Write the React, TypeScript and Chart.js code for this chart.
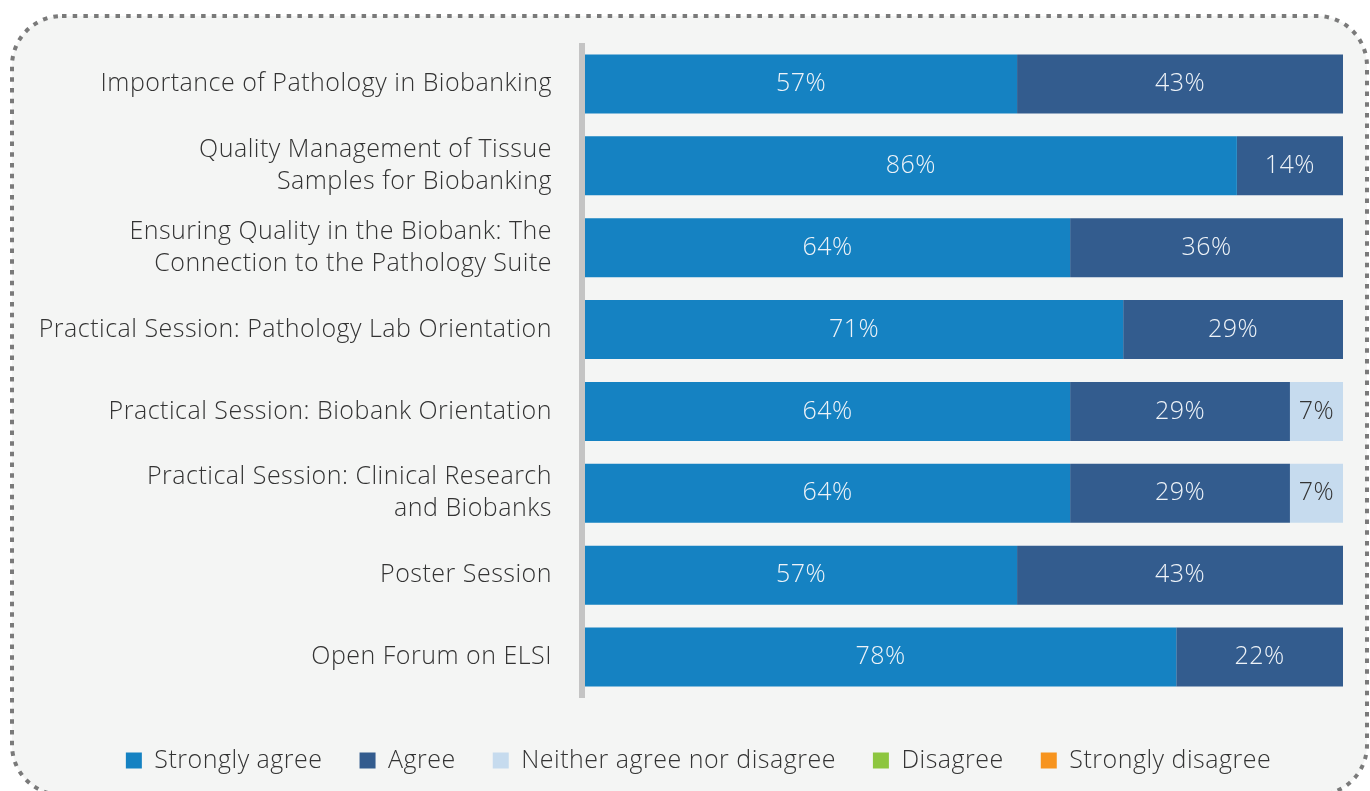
import React, { useEffect, useRef } from "react";
import { Chart, registerables } from "chart.js";

Chart.register(...registerables);

const categories: string[][] = [
  ["Importance of Pathology in Biobanking"],
  ["Quality Management of Tissue", "Samples for Biobanking"],
  ["Ensuring Quality in the Biobank: The", "Connection to the Pathology Suite"],
  ["Practical Session: Pathology Lab Orientation"],
  ["Practical Session: Biobank Orientation"],
  ["Practical Session: Clinical Research", "and Biobanks"],
  ["Poster Session"],
  ["Open Forum on ELSI"],
];

const seriesNames = [
  "Strongly agree",
  "Agree",
  "Neither agree nor disagree",
  "Disagree",
  "Strongly disagree",
];

const stronglyAgree = [57, 86, 64, 71, 64, 64, 57, 78];
const agree = [43, 14, 36, 29, 29, 29, 43, 22];
const neither = [0, 0, 0, 0, 7, 7, 0, 0];
const disagree = [0, 0, 0, 0, 0, 0, 0, 0];
const stronglyDisagree = [0, 0, 0, 0, 0, 0, 0, 0];

const seriesColors = ["#1582c2", "#335c8e", "#c6dbee", "#8dc63f", "#f7941e"];
const labelColors = ["#eef3f8", "#eef3f8", "#333333", "#333333", "#333333"];

const FONT = "'Open Sans', Roboto, 'Liberation Sans', Arial, sans-serif";
const FONT_SIZE = 25;
const LETTER_SPACING = "0.5px";

const setSpacing = (chart: any) => {
  const ctx = chart.ctx;
  if (ctx && "letterSpacing" in ctx) ctx.letterSpacing = LETTER_SPACING;
};

const backgroundPlugin = {
  id: "bgBox",
  beforeUpdate(chart: any) {
    setSpacing(chart);
  },
  beforeDraw(chart: any) {
    setSpacing(chart);
    const ctx = chart.ctx;
    const w = chart.width;
    const h = chart.height;
    ctx.save();
    ctx.fillStyle = "#ffffff";
    ctx.fillRect(0, 0, w, h);
    const x = 12, y = 16, bw = 1355, bh = 779, r = 50;
    ctx.beginPath();
    ctx.moveTo(x + r, y);
    ctx.lineTo(x + bw - r, y);
    ctx.arcTo(x + bw, y, x + bw, y + r, r);
    ctx.lineTo(x + bw, y + bh - r);
    ctx.arcTo(x + bw, y + bh, x + bw - r, y + bh, r);
    ctx.lineTo(x + r, y + bh);
    ctx.arcTo(x, y + bh, x, y + bh - r, r);
    ctx.lineTo(x, y + r);
    ctx.arcTo(x, y, x + r, y, r);
    ctx.closePath();
    ctx.fillStyle = "#f4f5f4";
    ctx.fill();
    ctx.setLineDash([4.5, 6.2]);
    ctx.lineWidth = 4;
    ctx.strokeStyle = "#7a7a7a";
    ctx.stroke();
    ctx.restore();
  },
  beforeDatasetsDraw(chart: any) {
    const a = chart.chartArea;
    const ctx = chart.ctx;
    ctx.save();
    ctx.fillStyle = "#c4c4c4";
    ctx.fillRect(a.left - 6, a.top, 6, a.bottom - a.top);
    ctx.restore();
  },
};

const valueLabelPlugin = {
  id: "valueLabels",
  afterDatasetsDraw(chart: any) {
    const ctx = chart.ctx;
    ctx.save();
    ctx.font = `300 ${FONT_SIZE}px ${FONT}`;
    ctx.textAlign = "center";
    ctx.textBaseline = "middle";
    chart.data.datasets.forEach((ds: any, di: number) => {
      const meta = chart.getDatasetMeta(di);
      if (meta.hidden) return;
      meta.data.forEach((bar: any, i: number) => {
        const v = ds.data[i];
        if (!v) return;
        const p = bar.getProps(["x", "y", "base"], true);
        ctx.fillStyle = labelColors[di];
        ctx.fillText(`${v}%`, (p.x + p.base) / 2, p.y);
      });
    });
    ctx.restore();
  },
};

export default function App() {
  const ref = useRef<HTMLCanvasElement | null>(null);

  useEffect(() => {
    if (!ref.current) return;
    const seriesData = [stronglyAgree, agree, neither, disagree, stronglyDisagree];
    const chart = new Chart(ref.current, {
      type: "bar",
      data: {
        labels: categories,
        datasets: seriesNames.map((name, i) => ({
          label: name,
          data: seriesData[i],
          backgroundColor: seriesColors[i],
          borderWidth: 0,
          barPercentage: 0.72,
          categoryPercentage: 1,
        })),
      },
      options: {
        indexAxis: "y",
        responsive: true,
        maintainAspectRatio: false,
        animation: false,
        layout: { padding: { top: 43, left: 27, right: 0, bottom: 8 } },
        scales: {
          x: {
            stacked: true,
            min: 0,
            max: 100,
            display: true,
            grid: { display: false },
            border: { display: false },
            ticks: { display: false },
            afterFit: (scale: any) => {
              scale.height = 13;
              scale.paddingLeft = 0;
              scale.paddingRight = 0;
            },
          },
          y: {
            stacked: true,
            grid: { display: false, drawTicks: false },
            border: { display: false },
            ticks: {
              color: "#333333",
              padding: 33,
              font: { family: FONT, size: FONT_SIZE, weight: "300", lineHeight: 1.28 },
            },
            afterFit: (scale: any) => {
              scale.width = 558;
              scale.paddingTop = 0;
              scale.paddingBottom = 0;
            },
          },
          yRight: {
            type: "category",
            position: "right",
            display: true,
            grid: { display: false, drawTicks: false },
            border: { display: false },
            ticks: { display: false },
            afterFit: (scale: any) => {
              scale.width = 27;
              scale.paddingTop = 0;
              scale.paddingBottom = 0;
            },
          },
        },
        plugins: {
          legend: {
            position: "bottom",
            labels: {
              boxWidth: 16,
              boxHeight: 16,
              padding: 37,
              color: "#333333",
              font: { family: FONT, size: FONT_SIZE, weight: "300" },
            },
          },
          tooltip: { enabled: false },
        },
      },
      plugins: [backgroundPlugin, valueLabelPlugin],
    } as any);
    return () => chart.destroy();
  }, []);

  return (
    <div style={{ position: "fixed", left: 0, top: 0, width: 1370, height: 791 }}>
      <canvas ref={ref} />
    </div>
  );
}
